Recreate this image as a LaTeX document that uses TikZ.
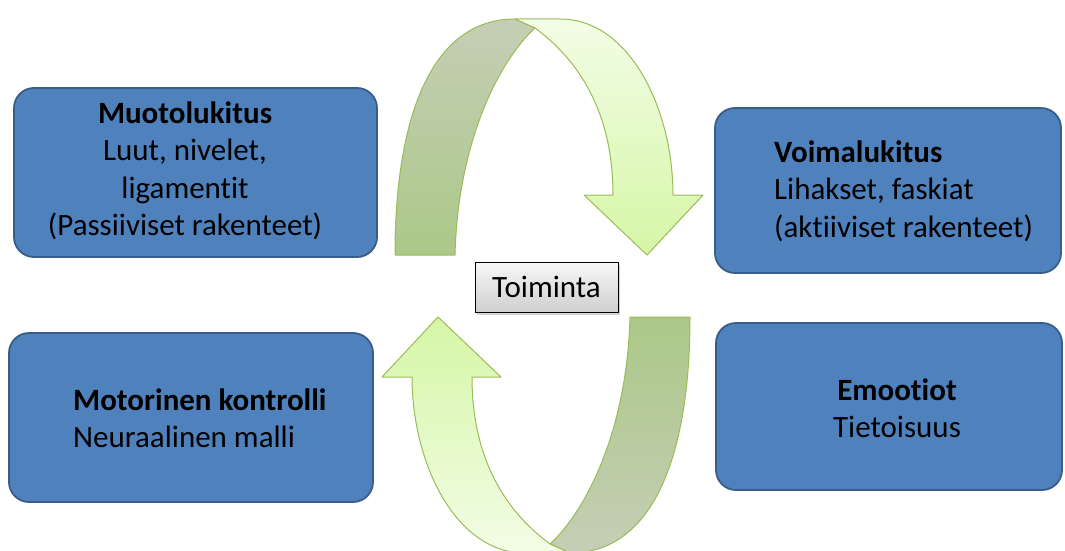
\documentclass[tikz,border=0pt]{standalone}
\usepackage{fontspec}
\setmainfont{Carlito}[Ligatures=NoCommon]
\usepackage{tikz}
\usetikzlibrary{shadows}
\definecolor{boxfill}{RGB}{79,129,189}
\definecolor{boxedge}{RGB}{56,93,138}
\definecolor{nauhaviiva}{RGB}{155,187,89}
\definecolor{tummaA}{RGB}{197,206,182}
\definecolor{tummaB}{RGB}{172,200,136}
\definecolor{vaaleaA}{RGB}{242,253,230}
\definecolor{vaaleaB}{RGB}{214,246,166}
\tikzstyle{lukko}=[draw=boxedge,fill=boxfill,line width=1.8pt,rounded corners=20pt,inner sep=0pt]
\tikzstyle{teksti}=[inner sep=0pt,font=\fontsize{31}{37.5}\selectfont]
\tikzstyle{nauha}=[draw=nauhaviiva,line width=1pt,line join=round]
\tikzstyle{toiminta}=[draw=black,line width=1pt,top color=gray!6,bottom color=gray!38,
    minimum width=143pt,minimum height=50pt,inner sep=0pt,
    drop shadow={shadow xshift=2pt,shadow yshift=-3pt,opacity=0.35}]

\begin{document}
\begin{tikzpicture}[x=1pt,y=-1pt]
    \useasboundingbox (0,0) rectangle (1065,551);
    % First the four blue boxes
    \foreach \pos/\w/\h/\name in {{(195.5,172.5)/363/169/muoto}, {(888,190.5)/346/165/voima},
                                  {(191,417.5)/364/169/motor}, {(889,406.5)/346/167/emo}}
        \node[lukko,minimum width=\w pt,minimum height=\h pt] (\name) at \pos {};

    % Their texts
    \node[teksti,align=center] (muototxt) at (185,171)
        {\textbf{Muotolukitus}\\Luut, nivelet,\\ligamentit\\(Passiiviset rakenteet)};
    \node[teksti,align=left,anchor=west] (voimatxt) at (774,191)
        {\textbf{Voimalukitus}\\Lihakset, faskiat\\(aktiiviset rakenteet)};
    \node[teksti,align=left,anchor=west] (motortxt) at (73,418)
        {\textbf{Motorinen kontrolli}\\Neuraalinen malli};
    \node[teksti,align=center] (emotxt) at (897,408)
        {\textbf{Emootiot}\\Tietoisuus};

    % Upper arrow: back side, then front side with the head
    \path[nauha,top color=tummaA,bottom color=tummaB]
        (395,255) .. controls (395,120) and (430,19) .. (515,19) -- (535,28)
        .. controls (500,60) and (458,140) .. (455,255) -- cycle;
    \path[nauha,top color=vaaleaA,bottom color=vaaleaB]
        (515,19) -- (560,19) .. controls (630,19) and (673,110) .. (673,195)
        -- (703,195) -- (647,255) -- (584,195) -- (613,195)
        .. controls (613,120) and (585,65) .. (535,28) -- cycle;

    % Lower arrow, the same turned round
    \path[nauha,top color=tummaB,bottom color=tummaA]
        (690,317) .. controls (690,452) and (655,553) .. (570,553) -- (550,544)
        .. controls (585,512) and (627,432) .. (630,317) -- cycle;
    \path[nauha,top color=vaaleaB,bottom color=vaaleaA]
        (570,553) -- (525,553) .. controls (455,553) and (412,462) .. (412,377)
        -- (382,377) -- (438,317) -- (501,377) -- (472,377)
        .. controls (472,452) and (500,507) .. (550,544) -- cycle;

    % Centre label
    \node[toiminta,font=\fontsize{31}{37.5}\selectfont] (toim) at (546.5,287) {Toiminta};
\end{tikzpicture}
\end{document}
